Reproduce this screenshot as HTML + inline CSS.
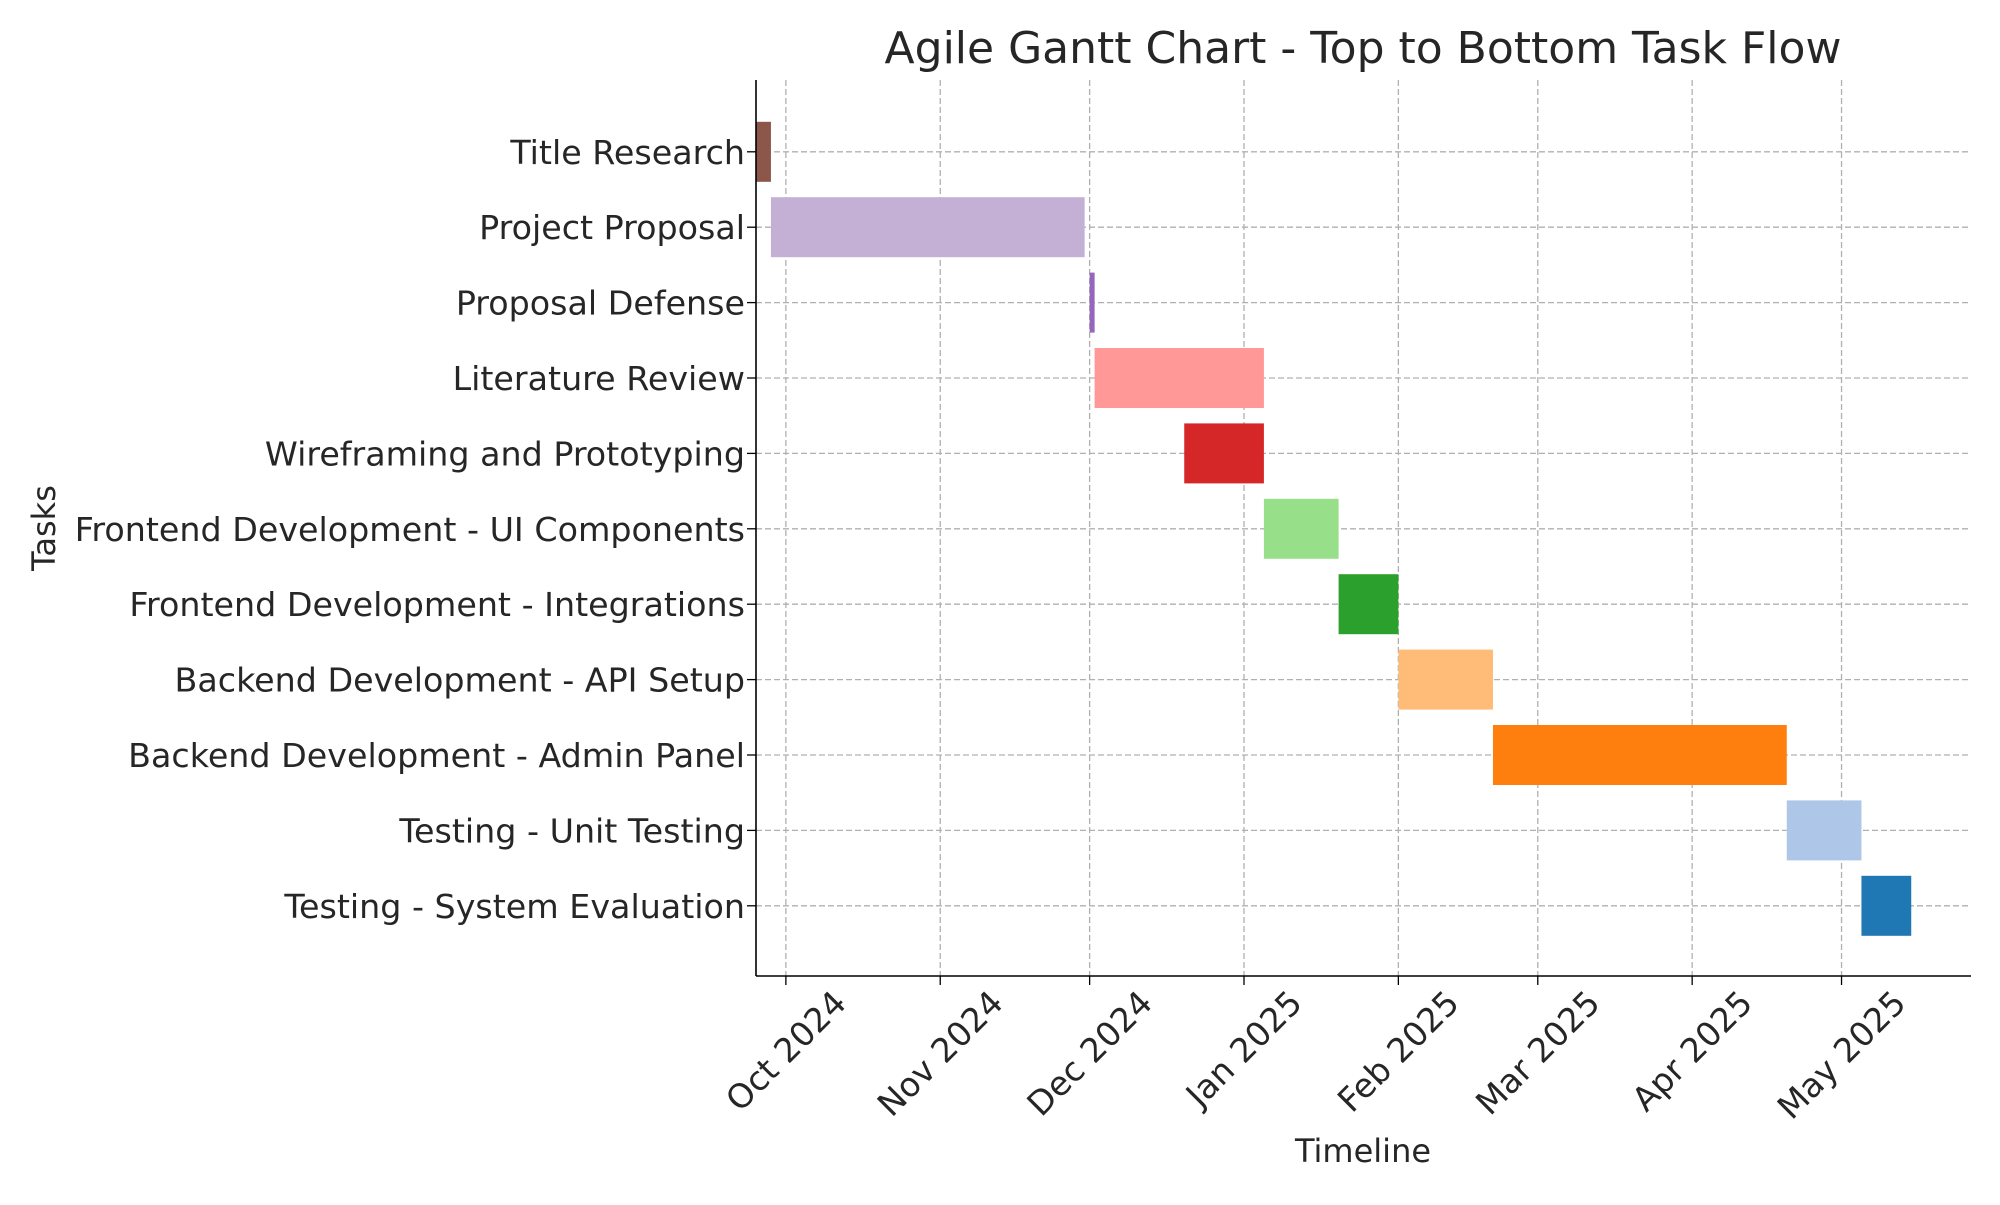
<!DOCTYPE html>
<html><head><meta charset="utf-8"><style>
html,body{margin:0;padding:0;background:#fff;}
svg text{font-family:"DejaVu Sans","Liberation Sans",sans-serif;fill:#262626;}
</style></head><body>
<svg id="chart" width="2000" height="1200" xmlns="http://www.w3.org/2000/svg">
<rect width="2000" height="1200" fill="#fff"/>
<text x="1363" y="63" font-size="44" text-anchor="middle">Agile Gantt Chart - Top to Bottom Task Flow</text>
<g id="grid"></g><g id="bars"></g><g id="axes"></g>
<text x="1363" y="1162" font-size="32" text-anchor="middle">Timeline</text>
<text transform="translate(55,528) rotate(-90)" font-size="32" text-anchor="middle">Tasks</text>
</svg>
<script>
const tasks=["Title Research","Project Proposal","Proposal Defense","Literature Review","Wireframing and Prototyping","Frontend Development - UI Components","Frontend Development - Integrations","Backend Development - API Setup","Backend Development - Admin Panel","Testing - Unit Testing","Testing - System Evaluation"];
const starts=["2024-09-25","2024-09-28","2024-12-01","2024-12-02","2024-12-20","2025-01-05","2025-01-20","2025-02-01","2025-02-20","2025-04-20","2025-05-05"];
const ends=["2024-09-28","2024-11-30","2024-12-02","2025-01-05","2025-01-05","2025-01-20","2025-02-01","2025-02-20","2025-04-20","2025-05-05","2025-05-15"];
const colors=["#8c564b","#c5b0d5","#9467bd","#ff9896","#d62728","#98df8a","#2ca02c","#ffbb78","#ff7f0e","#aec7e8","#1f77b4"];
const tickDates=["2024-10-01","2024-11-01","2024-12-01","2025-01-01","2025-02-01","2025-03-01","2025-04-01","2025-05-01"];
const tickLabels=["Oct 2024","Nov 2024","Dec 2024","Jan 2025","Feb 2025","Mar 2025","Apr 2025","May 2025"];
const L=756,R=1971,T=80,B=976;
const d0=Date.UTC(2024,8,25),d1=Date.UTC(2025,4,27);
function ms(s){const p=s.split('-');return Date.UTC(+p[0],+p[1]-1,+p[2]);}
function x(s){return L+(ms(s)-d0)/(d1-d0)*(R-L);}
const rowH=75.4,firstY=151.8;
function y(i){return firstY+i*rowH;}
const NS="http://www.w3.org/2000/svg";
function mk(tag,attrs,parent){const e=document.createElementNS(NS,tag);for(const k in attrs)e.setAttribute(k,attrs[k]);parent.appendChild(e);return e;}
const grid=document.getElementById('grid'),bars=document.getElementById('bars'),axes=document.getElementById('axes');
const FS=33.3;
tickDates.forEach((t,i)=>{
 const gx=x(t);
 const gl=mk('line',{x1:gx,x2:gx,y1:T,y2:B,stroke:'#b0b0b0','stroke-width':1.3,'stroke-dasharray':'6,3'},grid);
 
 
 const tk=mk('line',{x1:gx,x2:gx,y1:B,y2:B+9,stroke:'#000','stroke-width':1.3},axes);
 
 
 const tx=mk('text',{x:gx,y:0,'font-size':FS,'text-anchor':'middle','dominant-baseline':'central'},axes);
 tx.textContent=tickLabels[i];
 
 
 const len=tx.getComputedTextLength();
 const cy=B+12+(len+FS*0.75)*0.707/2;
 tx.setAttribute('y',cy);
 tx.setAttribute('transform',`rotate(-45 ${gx} ${cy})`);
});
tasks.forEach((t,i)=>{
 const cy=y(i);
 const gl=mk('line',{x1:L,x2:R,y1:cy,y2:cy,stroke:'#b0b0b0','stroke-width':1.3,'stroke-dasharray':'6,3'},grid);
 
 
 const bx=x(starts[i]),bw=Math.max(x(ends[i])-bx,1);
 const r=mk('rect',{x:bx,y:cy-30,width:bw,height:60,fill:colors[i]},bars);
 
 
 const tk=mk('line',{x1:L-9,x2:L,y1:cy,y2:cy,stroke:'#000','stroke-width':1.3},axes);
 
 
 const tx=mk('text',{x:L-11,y:cy+12,'font-size':FS,'text-anchor':'end'},axes);
 tx.textContent=t;
 
 
});
const la=mk('line',{x1:L,x2:L,y1:T,y2:B,stroke:'#000','stroke-width':1.6},axes);


const ba=mk('line',{x1:L,x2:R,y1:B,y2:B,stroke:'#000','stroke-width':1.6},axes);


</script>
</body></html>
